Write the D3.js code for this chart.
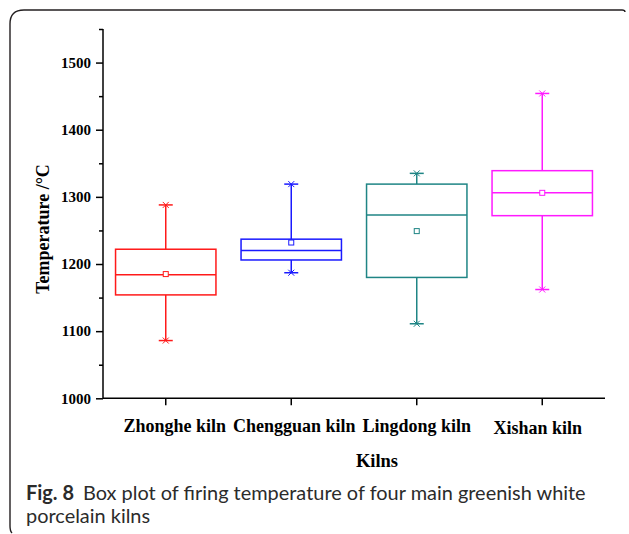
<!DOCTYPE html>
<html>
<head>
<meta charset="utf-8">
<script src="https://cdn.jsdelivr.net/npm/d3@7"></script>
<style>
  html, body { margin: 0; padding: 0; background: #fff; }
  svg { display: block; }
</style>
</head>
<body>
<svg id="chart" width="629" height="534"></svg>
<script>
// ---- data ----
const categories   = ["Zhonghe kiln", "Chengguan kiln", "Lingdong kiln", "Xishan kiln"];
const whiskerLow   = [1086, 1187, 1111, 1162];
const q1Values     = [1154, 1206, 1180, 1272];
const medianValues = [1184, 1220, 1273, 1306];
const q3Values     = [1222, 1237, 1319, 1339];
const whiskerHigh  = [1288, 1319, 1335, 1454];
const meanValues   = [1185, 1232, 1249, 1306];
const yTicks       = [1000, 1100, 1200, 1300, 1400, 1500];
const yMinorTicks  = [1050, 1150, 1250, 1350, 1450, 1550];
const yTitle = "Temperature /\u00B0C";
const xTitle = "Kilns";
const captionBold = "Fig. 8";
const captionLine1 = "Box plot of firing temperature of four main greenish white";
const captionLine2 = "porcelain kilns";

// ---- styling ----
const colors = ["#ff1a1a", "#1a1aff", "#1f8585", "#ff1aff"];
const labelNudge = [9, 3, 0, -4.5];
const labelDy = [0, 0, 0, 1.5];
const serif = "'Liberation Serif', 'Times New Roman', serif";
const sans = "Lato, 'Open Sans', sans-serif";

const svg = d3.select("#chart");

// frame (rounded left side)
svg.append("path")
  .attr("d", "M625,12 Q625,10 622,10 H24 Q10,10 10,24 V526 Q10,531 12,533")
  .attr("fill", "none").attr("stroke", "#231f20").attr("stroke-width", 1.4);

const plotLeft = 103, plotRight = 605, plotTop = 29, plotBottom = 398.3;

const x = d3.scaleBand().domain(categories).range([plotLeft, plotRight]).paddingInner(0.2).paddingOuter(0.1);
const xc = d => x(d) + x.bandwidth() / 2;
const y = d3.scaleLinear().domain([1000, 1550]).range([plotBottom, plotTop]);

const g = svg.append("g");

// y axis
const yAxis = g.append("g").attr("transform", `translate(${plotLeft},0)`)
  .call(d3.axisLeft(y).tickValues(yTicks).tickSize(7).tickPadding(5).tickFormat(d3.format("d")));
yAxis.select(".domain").attr("d", `M0,${plotTop}V${plotBottom}`);
yAxis.selectAll("line, path").attr("stroke", "#000").attr("stroke-width", 1.5);
yAxis.selectAll("text")
  .attr("font-family", serif).attr("font-weight", "bold").attr("font-size", 15).attr("fill", "#000");
g.append("g").attr("transform", `translate(${plotLeft},0)`)
  .call(d3.axisLeft(y).tickValues(yMinorTicks).tickSize(4).tickFormat(""))
  .call(s => s.select(".domain").remove())
  .selectAll("line").attr("stroke", "#000").attr("stroke-width", 1.5);

// x axis
const xAxis = g.append("g").attr("transform", `translate(0,${plotBottom})`)
  .call(d3.axisBottom(x).tickSize(7).tickPadding(14));
xAxis.select(".domain").attr("d", `M${plotLeft},0H${plotRight}`);
xAxis.selectAll("line, path").attr("stroke", "#000").attr("stroke-width", 1.5);
xAxis.selectAll("text")
  .attr("font-family", serif).attr("font-weight", "bold").attr("font-size", 18).attr("fill", "#000")
  .attr("x", (d, i) => labelNudge[i])
  .attr("dy", (d, i) => (0.71 + labelDy[i] / 18) + "em");

// axis titles
svg.append("text")
  .attr("transform", `translate(49,229) rotate(-90)`)
  .attr("text-anchor", "middle")
  .attr("font-family", serif).attr("font-weight", "bold").attr("font-size", 18).attr("fill", "#000")
  .text(yTitle);
svg.append("text")
  .attr("x", 377).attr("y", 467)
  .attr("text-anchor", "middle")
  .attr("font-family", serif).attr("font-weight", "bold").attr("font-size", 18.5).attr("fill", "#000")
  .text(xTitle);

// boxes
const boxW = x.bandwidth();
const capW = 14;
categories.forEach((c, i) => {
  const cx = xc(c), col = colors[i];
  const gb = g.append("g").attr("stroke", col).attr("fill", "none").attr("stroke-width", 1.5);
  // whiskers
  gb.append("line").attr("x1", cx).attr("x2", cx).attr("y1", y(q3Values[i])).attr("y2", y(whiskerHigh[i]));
  gb.append("line").attr("x1", cx).attr("x2", cx).attr("y1", y(q1Values[i])).attr("y2", y(whiskerLow[i]));
  // caps + x markers
  [whiskerHigh[i], whiskerLow[i]].forEach(v => {
    const yy = y(v);
    gb.append("line").attr("x1", cx - capW / 2).attr("x2", cx + capW / 2).attr("y1", yy).attr("y2", yy);
    gb.append("path").attr("stroke-width", 1)
      .attr("d", `M${cx - 3},${yy - 3}L${cx + 3},${yy + 3}M${cx - 3},${yy + 3}L${cx + 3},${yy - 3}`);
  });
  // box
  gb.append("rect")
    .attr("x", cx - boxW / 2).attr("width", boxW)
    .attr("y", y(q3Values[i])).attr("height", y(q1Values[i]) - y(q3Values[i]));
  // median
  gb.append("line").attr("x1", cx - boxW / 2).attr("x2", cx + boxW / 2)
    .attr("y1", y(medianValues[i])).attr("y2", y(medianValues[i]));
  // mean
  gb.append("rect").attr("stroke-width", 1)
    .attr("x", cx - 2.5).attr("y", y(meanValues[i]) - 2.5).attr("width", 5).attr("height", 5)
    .attr("fill", "#fff");
});

// caption
const cap = svg.append("text")
  .attr("x", 26).attr("y", 500)
  .attr("font-family", sans).attr("font-size", 18).attr("fill", "#2b2b2b");
cap.append("tspan").attr("font-weight", "bold").text(captionBold);
cap.append("tspan").attr("dx", 9).text(captionLine1);
const targetW = 551;
const w = cap.node().getComputedTextLength();
if (w > 0) {
  const fs = 18 * targetW / w;
  cap.attr("font-size", fs);
}
svg.append("text")
  .attr("x", 26).attr("y", 523)
  .attr("font-family", sans).attr("font-size", cap.attr("font-size")).attr("fill", "#2b2b2b")
  .text(captionLine2);
</script>
</body>
</html>
